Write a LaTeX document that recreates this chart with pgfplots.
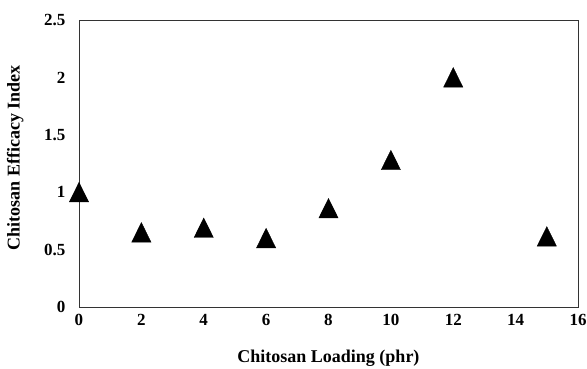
\documentclass[border=0pt]{standalone}
\usepackage{fontspec}
\setmainfont{Liberation Serif}
\usepackage{pgfplots}
\pgfplotsset{compat=1.18}
\begin{document}
\begin{tikzpicture}
\useasboundingbox (-79pt,-62pt) rectangle (508pt,307pt);
\begin{axis}[
  at={(0pt,0pt)}, anchor=origin,
  scale only axis, width=499pt, height=287pt,
  xmin=0, xmax=16, ymin=0, ymax=2.5,
  xtick={0,2,...,16}, ytick={0,0.5,...,2.5},
  major tick length=0pt,
  axis line style={line width=0.9pt, black!80},
  /pgf/number format/assume math mode=true,
  xticklabel={\pgfmathprintnumber{\tick}},
  yticklabel={\pgfmathprintnumber[fixed]{\tick}},
  tick label style={font=\fontsize{17}{19}\selectfont\bfseries},
  yticklabel style={xshift=-10pt},
  xticklabel style={yshift=-4pt},
  xlabel={Chitosan Loading (phr)},
  ylabel={Chitosan Efficacy Index},
  label style={font=\fontsize{18}{20}\selectfont\bfseries},
  xlabel style={at={(axis description cs:0.5,-0.178)}, anchor=center},
  ylabel style={at={(axis description cs:-0.128,0.52)}, anchor=center},
  clip=false,
]
\addplot[only marks, mark=triangle*, mark size=11.1pt, black,
  mark options={yshift=-3.2pt, yscale=1.17}] coordinates {
  (0,1.00) (2,0.65) (4,0.69) (6,0.60) (8,0.86) (10,1.28) (12,2.00) (15,0.615)
};
\end{axis}
\end{tikzpicture}
\end{document}
